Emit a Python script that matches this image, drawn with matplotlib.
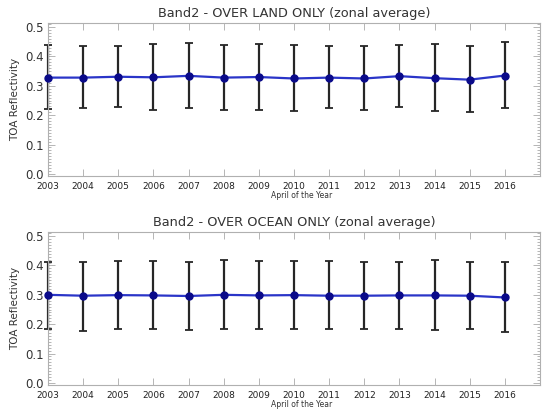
import matplotlib
matplotlib.use("Agg")
import matplotlib.pyplot as plt
from matplotlib.ticker import MultipleLocator

years = list(range(2003, 2017))

# land: mean, upper and lower end of the error bar
land_mean = [0.328, 0.328, 0.331, 0.329, 0.334, 0.328, 0.330,
             0.325, 0.328, 0.325, 0.333, 0.326, 0.321, 0.335]
land_top = [0.440, 0.437, 0.434, 0.442, 0.445, 0.440, 0.443,
            0.440, 0.436, 0.437, 0.440, 0.442, 0.434, 0.448]
land_bot = [0.222, 0.223, 0.229, 0.217, 0.225, 0.217, 0.219,
            0.214, 0.223, 0.217, 0.227, 0.214, 0.212, 0.223]

# ocean
ocean_mean = [0.300, 0.297, 0.299, 0.298, 0.296, 0.300, 0.298,
              0.299, 0.297, 0.297, 0.298, 0.298, 0.297, 0.291]
ocean_top = [0.413, 0.412, 0.415, 0.415, 0.412, 0.418, 0.414,
             0.415, 0.414, 0.411, 0.413, 0.418, 0.411, 0.412]
ocean_bot = [0.183, 0.178, 0.184, 0.182, 0.181, 0.184, 0.184,
             0.185, 0.182, 0.184, 0.185, 0.181, 0.183, 0.174]

panels = [
    ("Band2 - OVER LAND ONLY (zonal average)", land_mean, land_top, land_bot,
     [0.087, 0.579, 0.893, 0.366]),
    ("Band2 - OVER OCEAN ONLY (zonal average)", ocean_mean, ocean_top, ocean_bot,
     [0.087, 0.079, 0.893, 0.366]),
]

fig = plt.figure(figsize=(5.51, 4.18), dpi=100)

for title, mean, top, bot, pos in panels:
    ax = fig.add_axes(pos)
    lo = [m - b for m, b in zip(mean, bot)]
    hi = [t - m for m, t in zip(mean, top)]
    eb = ax.errorbar(years, mean, yerr=[lo, hi], fmt="none", ecolor="#262626",
                     elinewidth=1.6, capsize=2.8, capthick=1.3, zorder=2)
    # first bar sits right on the left spine, don't cut it in half
    for art in eb.lines[1] + eb.lines[2]:
        art.set_clip_on(False)
    ax.plot(years, mean, color="#2a35c8", lw=1.6, zorder=3)
    ax.plot(years, mean, "o", color="#0a0a8a", ms=5, zorder=4, clip_on=False)

    ax.set_xlim(2003, 2017)
    ax.set_ylim(-0.007, 0.514)
    ax.set_xticks(years)
    ax.set_xticklabels([str(y) for y in years], fontsize=6.5)
    ax.set_yticks([0.0, 0.1, 0.2, 0.3, 0.4, 0.5])
    ax.set_yticklabels(["0.0", "0.1", "0.2", "0.3", "0.4", "0.5"], fontsize=8.5,
                       color="#333333")
    ax.yaxis.set_minor_locator(MultipleLocator(0.01))
    ax.tick_params(which="both", direction="in", top=True, right=True,
                   color="#aaaaaa", width=0.6)
    ax.tick_params(which="major", length=5, pad=3)
    ax.tick_params(which="minor", length=2.5)
    ax.tick_params(axis="x", colors="#aaaaaa", labelcolor="#222222", pad=4)
    for s in ax.spines.values():
        s.set_color("#b0b0b0")
        s.set_linewidth(0.8)

    ax.set_title(title, fontsize=9.3, color="#333333", pad=4)
    ax.set_ylabel("TOA Reflectivity", fontsize=7.5, color="#333333", labelpad=4)
    ax.set_xlabel("April of the Year", fontsize=5.5, color="#333333", labelpad=0)
    ax.xaxis.set_label_coords(0.515, -0.1)

fig.savefig("out.png", dpi=100)
